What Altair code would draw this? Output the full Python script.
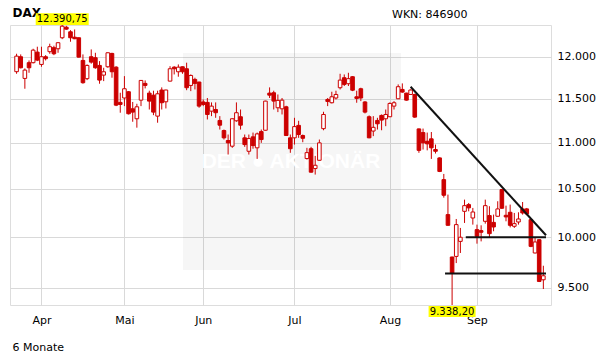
import altair as alt
import pandas as pd

# Daily candles (trading-day index 0 = 24 Mar, last = 23 Sep)
opens = [11820, 12000, 11740, 11928, 11928, 12056, 11907, 12000, 12061, 12110,
         12097, 12232, 12363, 12306, 12239, 12232, 11955, 11737, 12000, 11988,
         11895, 11779, 11879, 12040, 11874, 11459, 11510, 11583, 11385, 11271,
         11485, 11681, 11567, 11543, 11301, 11603, 11466, 11708, 11874, 11819,
         11879, 11855, 11657, 11728, 11697, 11464, 11459, 11358, 11377, 11252,
         11138, 11026, 10963, 11248, 11294, 11056, 10907, 11067, 10945, 11126,
         11141, 11567, 11571, 11397, 11385, 11408, 11056, 11056, 11196, 11082,
         10827, 10935, 10718, 10808, 11159, 11493, 11455, 11510, 11630, 11748,
         11677, 11760, 11524, 11618, 11464, 11294, 11132, 11252, 11309, 11271,
         11294, 11416, 11501, 11610, 11567, 11551, 11551, 11156, 11115, 11018,
         11045, 10926, 10834, 10599, 10231, 9802, 9808, 9958, 10265, 10335,
         10196, 10077, 10067, 10162, 10221, 10151, 10214, 10493, 10224, 10255,
         10111, 10155, 10290, 10290, 10179, 9842, 9975, 9579]
highs = [12036, 12028, 11859, 11955, 12097, 12122, 12122, 12019, 12159, 12134,
         12175, 12390.75, 12380, 12326, 12335, 12235, 12028, 11907, 12089, 12048,
         11947, 11867, 12052, 12048, 11886, 11571, 11767, 11590, 11464, 11443,
         11720, 11716, 11595, 11595, 11595, 11634, 11606, 11886, 11886, 11907,
         11882, 11928, 11787, 11748, 11700, 11493, 11510, 11459, 11459, 11301,
         11149, 11093, 11275, 11459, 11377, 11093, 11093, 11115, 11115, 11149,
         11478, 11634, 11595, 11551, 11510, 11420, 11093, 11282, 11248, 11093,
         10945, 10956, 10856, 11037, 11351, 11510, 11583, 11595, 11795, 11787,
         11807, 11767, 11595, 11630, 11474, 11309, 11301, 11282, 11320, 11377,
         11459, 11474, 11669, 11681, 11571, 11610, 11560, 11160, 11160, 11115,
         11121, 10981, 10840, 10660, 10440, 9805, 10186, 10094, 10387, 10352,
         10300, 10128, 10121, 10387, 10318, 10231, 10370, 10500, 10324, 10335,
         10248, 10255, 10362, 10300, 10185, 9992, 9980, 9716]
lows = [11795, 11859, 11618, 11807, 11919, 11947, 11879, 11955, 12036, 12019,
        12048, 12215, 12331, 12183, 12215, 11990, 11677, 11720, 11916, 11855,
        11677, 11708, 11867, 11748, 11416, 11340, 11416, 11320, 11237, 11170,
        11416, 11622, 11377, 11312, 11226, 11377, 11389, 11705, 11787, 11760,
        11795, 11601, 11590, 11610, 11397, 11416, 11263, 11301, 11282, 11149,
        11037, 10871, 10945, 11237, 11149, 10956, 10871, 10935, 10823, 11000,
        11138, 11510, 11377, 11347, 11320, 11078, 10890, 10981, 11056, 11007,
        10816, 10675, 10653, 10805, 11141, 11416, 11447, 11493, 11610, 11650,
        11650, 11590, 11455, 11474, 11332, 11052, 11075, 11149, 11141, 11187,
        11290, 11377, 11498, 11571, 11480, 11548, 11282, 10890, 10926, 10917,
        10823, 10882, 10680, 10408, 10118, 9338.2, 9742, 9842, 10145, 10265,
        10128, 9935, 9958, 10138, 9992, 10060, 10210, 10290, 10162, 10100,
        10094, 10128, 10231, 10224, 9900, 9838, 9557, 9490]
closes = [12007, 11867, 11839, 11867, 12080, 11959, 12000, 11976, 12122, 12036,
          12171, 12376, 12339, 12232, 12220, 11995, 11689, 11895, 11935, 11867,
          11720, 11819, 12048, 11819, 11427, 11435, 11618, 11328, 11347, 11408,
          11716, 11657, 11474, 11347, 11559, 11455, 11603, 11855, 11855, 11874,
          11819, 11630, 11775, 11681, 11416, 11435, 11320, 11416, 11340, 11198,
          11056, 11000, 11271, 11340, 11198, 10981, 11048, 10970, 11100, 11037,
          11474, 11543, 11474, 11482, 11485, 11082, 10935, 11182, 11093, 11051,
          10892, 10679, 10754, 11000, 11320, 11470, 11524, 11551, 11720, 11669,
          11737, 11601, 11505, 11510, 11347, 11056, 11174, 11214, 11256, 11320,
          11447, 11455, 11642, 11579, 11485, 11603, 11290, 10917, 11000, 10989,
          10945, 10907, 10687, 10433, 10121, 9640, 10128, 10000, 10324, 10301,
          10258, 10009, 10050, 10324, 10036, 10104, 10290, 10297, 10207, 10121,
          10138, 10186, 10248, 10238, 9908, 9952, 9563, 9618]

month_labels = ["Apr", "Mai", "Jun", "Jul", "Aug", "Sep"]
month_idx = [6, 26, 45, 67, 90, 111]
y_ticks = [9500, 10000, 10500, 11000, 11500, 12000]

# drawn trend lines (start/end in trading-day index and price)
trend_id = ["diag", "diag", "top", "top", "bottom", "bottom"]
trend_x = [95, 127.64, 108.3, 127.64, 103.3, 127.64]
trend_y = [11642, 10020, 10000, 10000, 9640, 9640]

max_label = "12.390,75"
min_label = "9.338,20"

RED = "#cc0000"
GRID = "#d9d9d9"
FONT = "DejaVu Sans"

df = pd.DataFrame({"i": list(range(len(opens))), "open": opens, "high": highs,
                   "low": lows, "close": closes})
trend = pd.DataFrame({"id": trend_id, "i": trend_x, "v": trend_y})
imax = int(df["high"].idxmax())
imin = int(df["low"].idxmin())
marks_df = pd.DataFrame({"i": [imax, imin], "label": [max_label, min_label],
                         "pos": ["top", "bottom"]})
one = pd.DataFrame({"a": [0]})

label_expr = " : ".join(
    f"datum.value == {v} ? '{l}'" for v, l in zip(month_idx, month_labels)) + " : ''"

xscale = alt.Scale(domain=[-0.38, 127.64], nice=False, zero=False)
yscale = alt.Scale(type="log", domain=[9338.2, 12390.75], nice=False)

xaxis = alt.Axis(values=month_idx, labelExpr=label_expr, grid=True, gridColor=GRID,
                 ticks=False, domain=False, title=None, labelFont=FONT,
                 labelFontSize=11, labelColor="#000", labelPadding=9,
                 labelAlign="center", labelBaseline="top")
yaxis = alt.Axis(orient="right", values=y_ticks,
                 labelExpr="replace(format(datum.value, ','), ',', '.')",
                 grid=True, gridColor=GRID, ticks=False, domain=False, title=None,
                 labelFont=FONT, labelFontSize=11, labelColor="#000",
                 labelPadding=6, labelBaseline="middle")

base = alt.Chart(df)

watermark_box = alt.Chart(one).mark_rect(color="black", opacity=0.035).encode(
    x=alt.value(173), x2=alt.value(391), y=alt.value(28), y2=alt.value(245))
watermark_txt = alt.Chart(one).mark_text(
    font="Liberation Sans", fontWeight="bold", fontSize=21, color="white",
    align="center", baseline="middle").encode(
    x=alt.value(281), y=alt.value(137), text=alt.value("DER ● AKTIONÄR"))

wicks = base.mark_rule(color=RED, strokeWidth=1).encode(
    x=alt.X("i:Q", scale=xscale, axis=xaxis),
    y=alt.Y("low:Q", scale=yscale, axis=yaxis),
    y2="high:Q")

bodies = base.mark_bar(size=3.6, stroke=RED, strokeWidth=1).encode(
    x=alt.X("i:Q", scale=xscale),
    y=alt.Y("open:Q", scale=yscale),
    y2="close:Q",
    fill=alt.condition("datum.close > datum.open", alt.value("white"), alt.value(RED)))

lines = alt.Chart(trend).mark_line(color="#111", strokeWidth=2).encode(
    x=alt.X("i:Q", scale=xscale),
    y=alt.Y("v:Q", scale=yscale),
    detail="id:N")

top_df = marks_df[marks_df["pos"] == "top"]
bot_df = marks_df[marks_df["pos"] == "bottom"]

dax = alt.Chart(one).mark_text(font=FONT, fontSize=12, fontWeight="bold",
                               align="left", baseline="alphabetic", color="#000").encode(
    x=alt.value(2.5), y=alt.value(-8.5), text=alt.value("DAX"))
wkn = alt.Chart(one).mark_text(font=FONT, fontSize=11, align="left",
                               baseline="alphabetic", color="#000").encode(
    x=alt.value(382), y=alt.value(-7), text=alt.value("WKN: 846900"))
months6 = alt.Chart(one).mark_text(font=FONT, fontSize=11, align="left",
                                   baseline="alphabetic", color="#000").encode(
    x=alt.value(2.5), y=alt.value(325.5), text=alt.value("6 Monate"))

box_top = alt.Chart(top_df).mark_tick(orient="horizontal", size=53, thickness=11.7,
                                      color="#ffff00", opacity=1).encode(
    x=alt.X("i:Q", scale=xscale), y=alt.value(-5.85))
txt_top = alt.Chart(top_df).mark_text(font=FONT, fontSize=10, color="#000",
                                      align="center", baseline="middle").encode(
    x=alt.X("i:Q", scale=xscale), y=alt.value(-5.6), text="label:N")
box_bot = alt.Chart(bot_df).mark_tick(orient="horizontal", size=47, thickness=11,
                                      color="#ffff00", opacity=1).encode(
    x=alt.X("i:Q", scale=xscale), y=alt.value(286.5))
txt_bot = alt.Chart(bot_df).mark_text(font=FONT, fontSize=10, color="#000",
                                      align="center", baseline="middle").encode(
    x=alt.X("i:Q", scale=xscale), y=alt.value(286.8), text="label:N")

chart = alt.layer(
    watermark_box, watermark_txt, wicks, bodies, lines,
    dax, box_top, txt_top, box_bot, txt_bot, wkn, months6
).properties(
    width=541, height=280,
    autosize=alt.AutoSizeParams(type="none"),
    padding={"left": 2, "top": 17, "right": 52, "bottom": 51},
).configure_view(stroke=GRID, strokeWidth=1).configure(background="white")

chart.save("out.html", embed_options={"renderer": "svg", "actions": False})
